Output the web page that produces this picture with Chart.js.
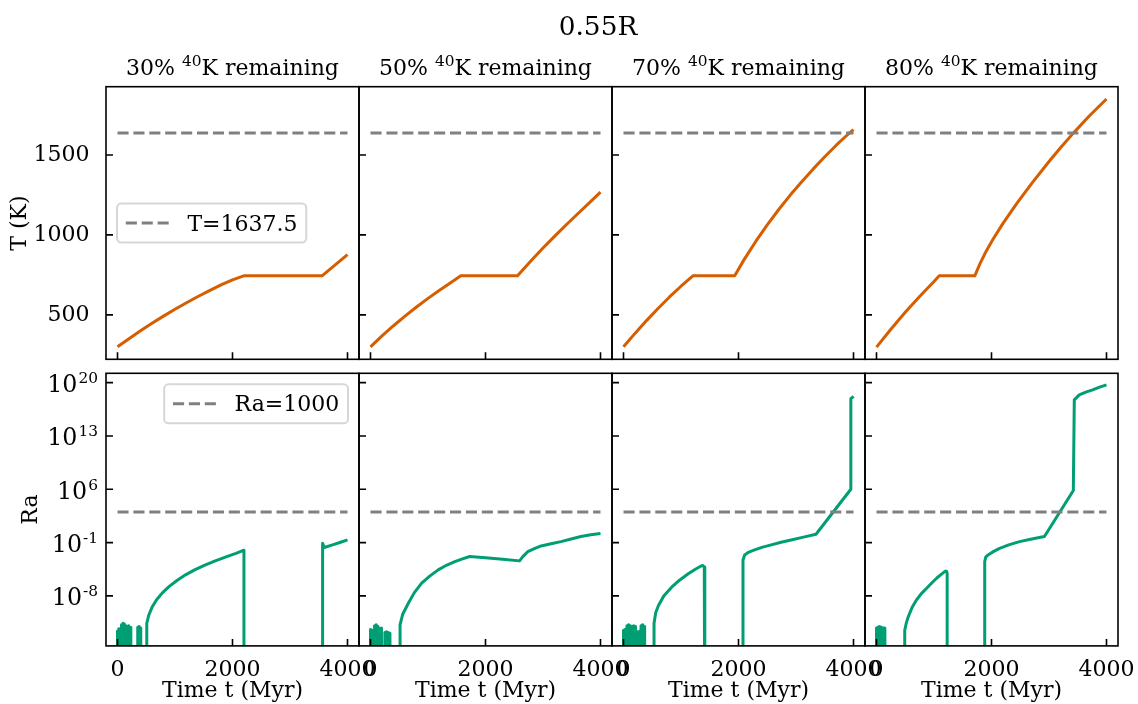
<!DOCTYPE html>
<html>
<head>
<meta charset="utf-8">
<script src="https://cdn.jsdelivr.net/npm/chart.js@4.4.1/dist/chart.umd.min.js"></script>
<style>
  html, body { margin: 0; padding: 0; background: #fff; }
  #wrap { position: relative; width: 1138px; height: 704px; }
  #wrap canvas { position: absolute; left: 0; top: 0; }
</style>
</head>
<body>
<div id="wrap"></div>
<script>
// time axis and tick values
const timeTicks = [0, 2000, 4000];
const tempTicks = [500, 1000, 1500];
const raTicks = [1e-8, 1e-1, 1e6, 1e13, 1e20];
const potassium = ['30%', '50%', '70%', '80%'];
const meltTemp = 1637.5;
const critRa = 1000;

// temperature curves [t (Myr), T (K)]
const temp30 = [[0,300],[200,351],[400,400],[600,447],[800,492],[1000,535],[1200,576],[1400,615],[1600,652],[1800,687],[2000,719],[2194,744],[3557,744],[4000,877]];
const temp50 = [[0,300],[200,368],[400,432],[600,492],[800,549],[1000,603],[1200,654],[1400,702],[1570,744],[2557,744],[2800,842],[3000,918],[3200,991],[3400,1062],[3600,1131],[3800,1199],[4000,1268]];
const temp70 = [[0,300],[200,384],[400,464],[600,540],[800,612],[1000,679],[1207,744],[1934,744],[2100,847],[2300,959],[2500,1063],[2700,1159],[2900,1249],[3100,1333],[3300,1413],[3500,1489],[3700,1561],[3900,1628],[4000,1658]];
const temp80 = [[0,298],[250,410],[500,516],[750,615],[1000,709],[1091,744],[1709,744],[1800,820],[1900,893],[2026,973],[2200,1072],[2431,1192],[2700,1322],[3008,1462],[3200,1545],[3411,1632],[3700,1744],[4000,1850]];

// Rayleigh number curves [t (Myr), log10 Ra]; -30 means the value sits far below the axis
const ra30 = [[0,-30],[0,-12.6],[12,-30],[22,-12.3],[35,-30],[45,-12.5],[58,-30],[70,-11.8],[82,-30],[95,-11.6],[108,-30],[120,-11.7],[132,-30],[145,-11.9],[158,-30],[170,-12.0],[182,-30],[195,-11.9],[208,-30],[220,-12.1],[232,-30],
  [346,-30],[352,-12.1],[365,-30],[378,-12.0],[392,-30],[404,-12.2],[410,-30],
  [509,-30],[509,-11.6],[545,-10.5],[600,-9.5],[680,-8.5],[780,-7.6],[900,-6.75],[1040,-5.95],[1190,-5.2],[1350,-4.55],[1520,-3.95],[1700,-3.4],[1900,-2.85],[2060,-2.42],[2199,-2.0],[2199,-30],
  [3567,-30],[3567,-1.08],[3596,-1.65],[3740,-1.3],[3880,-0.95],[4000,-0.65]];
const ra50 = [[0,-30],[0,-12.4],[12,-30],[25,-12.5],[35,-30],[63,-30],[70,-11.9],[85,-30],[100,-11.8],[115,-30],[130,-12.0],[145,-30],[160,-12.3],[175,-30],[190,-12.2],[200,-30],
  [242,-30],[250,-12.8],[265,-30],[280,-12.7],[295,-30],[310,-12.8],[325,-30],[338,-12.9],[345,-30],
  [514,-30],[514,-11.8],[560,-10.4],[658,-8.96],[760,-7.6],[889,-6.33],[1030,-5.4],[1177,-4.58],[1320,-3.98],[1466,-3.49],[1600,-3.13],[1726,-2.83],[2000,-2.98],[2300,-3.2],[2592,-3.4],
  [2649,-2.84],[2736,-2.19],[2850,-1.8],[2967,-1.44],[3140,-1.15],[3313,-0.87],[3490,-0.52],[3659,-0.21],[3830,0.02],[4000,0.2]];
const ra70 = [[0,-30],[0,-12.5],[15,-30],[30,-12.4],[45,-30],[60,-11.9],[75,-30],[90,-11.8],[105,-30],[120,-11.9],[135,-30],[150,-12.0],[165,-30],[180,-11.9],[195,-30],[210,-12.0],[225,-30],
  [245,-30],[255,-12.7],[270,-30],[285,-12.6],[295,-30],[305,-11.9],[320,-30],[335,-11.8],[350,-30],[362,-12.0],[368,-30],
  [531,-30],[531,-11.6],[560,-10.2],[606,-9.3],[700,-8.0],[837,-6.85],[980,-5.9],[1126,-5.1],[1250,-4.5],[1340,-4.1],[1380,-4.0],[1405,-4.2],[1414,-4.67],[1414,-30],
  [2078,-30],[2078,-3.28],[2107,-2.62],[2180,-2.25],[2280,-1.96],[2420,-1.6],[2569,-1.3],[2740,-0.96],[2915,-0.65],[3130,-0.28],[3348,0.1],[3954,6.0],[3954,17.9],[3975,18.0],[4000,18.2]];
const ra80 = [[0,-30],[0,-12.2],[12,-30],[25,-12.1],[40,-30],[55,-12.0],[70,-30],[85,-12.1],[100,-30],[115,-12.2],[130,-30],[145,-12.2],[160,-30],
  [491,-30],[491,-12.5],[520,-11.5],[554,-10.7],[620,-9.5],[698,-8.5],[780,-7.7],[872,-7.0],[960,-6.3],[1045,-5.68],[1120,-5.2],[1170,-4.9],[1205,-4.72],[1222,-4.8],[1229,-5.1],[1229,-30],
  [1882,-30],[1882,-3.5],[1900,-2.9],[1939,-2.62],[2040,-2.15],[2141,-1.75],[2300,-1.3],[2488,-0.87],[2700,-0.52],[2921,-0.21],[3423,5.83],[3440,17.73],[3527,18.38],[3640,18.75],[3758,19.04],[3880,19.4],[4000,19.7]];

const tempSeries = [temp30, temp50, temp70, temp80];
const raSeries = [ra30, ra50, ra70, ra80];

const W = 1138, H = 704;
const colLeft = [106, 359, 612, 865];
const colWidth = 253;
const rowTop = [86.7, 373.3];
const rowHeight = 272.6;

const FONT = '"DejaVu Serif", "Liberation Serif", serif';
const FS = 22;
const ORANGE = '#D55E00';
const GREEN = '#009E73';
const GREY = '#808080';

function font(size) { return size + 'px ' + FONT; }

// "10" with a raised exponent, right aligned at xRight
function drawPower(ctx, value, xRight, yTick) {
  const exp = String(Math.round(Math.log10(value)));
  ctx.font = font(FS * 0.7);
  const ws = ctx.measureText(exp).width;
  const base = yTick + 9.3;
  ctx.textAlign = 'left';
  ctx.textBaseline = 'alphabetic';
  ctx.fillText(exp, xRight - ws, base - 9);
  ctx.font = font(FS * 1.08);
  const wb = ctx.measureText('10').width;
  ctx.fillText('10', xRight - ws - wb - 1, base);
}

// "xx% 40K remaining" with the isotope number raised
function drawColumnTitle(ctx, pct, cx, base) {
  const a = pct + ' ', s = '40', b = 'K remaining';
  ctx.font = font(FS);
  const wa = ctx.measureText(a).width, wb = ctx.measureText(b).width;
  ctx.font = font(FS * 0.7);
  const ws = ctx.measureText(s).width;
  let x = cx - (wa + ws + wb) / 2;
  ctx.textAlign = 'left';
  ctx.textBaseline = 'alphabetic';
  ctx.font = font(FS);
  ctx.fillText(a, x, base);
  x += wa;
  ctx.font = font(FS * 0.7);
  ctx.fillText(s, x, base - 8.5);
  x += ws;
  ctx.font = font(FS);
  ctx.fillText(b, x, base);
}

function drawLegend(ctx, label, left, top) {
  ctx.font = font(FS);
  const tw = ctx.measureText(label).width;
  const pad = 0.4 * FS, handle = 2 * FS, gap = 0.8 * FS;
  const w = pad + handle + gap + tw + pad, h = 39;
  if (left === null) left = top.right - w;
  const y0 = top.y;
  ctx.beginPath();
  ctx.roundRect(left, y0, w, h, 4.4);
  ctx.fillStyle = 'rgba(255,255,255,0.8)';
  ctx.fill();
  ctx.strokeStyle = 'rgba(204,204,204,0.8)';
  ctx.lineWidth = 2;
  ctx.stroke();
  const cy = y0 + h / 2;
  ctx.beginPath();
  ctx.setLineDash([11.1, 4.8]);
  ctx.strokeStyle = GREY;
  ctx.lineWidth = 3;
  ctx.moveTo(left + pad, cy);
  ctx.lineTo(left + pad + handle, cy);
  ctx.stroke();
  ctx.setLineDash([]);
  ctx.fillStyle = '#000';
  ctx.textAlign = 'left';
  ctx.textBaseline = 'alphabetic';
  ctx.fillText(label, left + pad + handle + gap, cy + 7.5);
}

function drawRotated(ctx, text, x, cy) {
  ctx.save();
  ctx.translate(x, cy);
  ctx.rotate(-Math.PI / 2);
  ctx.font = font(FS);
  ctx.textAlign = 'center';
  ctx.textBaseline = 'alphabetic';
  ctx.fillText(text, 0, 0);
  ctx.restore();
}

const wrap = document.getElementById('wrap');

function makePanel(row, col) {
  const canvas = document.createElement('canvas');
  canvas.width = W;
  canvas.height = H;
  wrap.appendChild(canvas);

  const area = { left: colLeft[col], top: rowTop[row], right: colLeft[col] + colWidth, bottom: rowTop[row] + rowHeight };
  const yWidth = col === 0 ? area.left : 0;
  const xHeight = row === 1 ? H - area.bottom : 0;
  const isTemp = row === 0;

  const series = isTemp
    ? tempSeries[col].map(p => ({ x: p[0], y: p[1] }))
    : raSeries[col].map(p => ({ x: p[0], y: Math.pow(10, p[1]) }));
  const ref = isTemp ? meltTemp : critRa;
  const refLabel = isTemp ? 'T=1637.5' : 'Ra=1000';

  const decor = {
    id: 'panelDecor',
    afterDraw(chart) {
      const ctx = chart.ctx, a = chart.chartArea;
      const xs = chart.scales.x, ys = chart.scales.y;
      ctx.save();
      // inward ticks and frame
      ctx.strokeStyle = '#000';
      ctx.lineWidth = 1.6;
      ctx.beginPath();
      xs.ticks.forEach(t => {
        const px = xs.getPixelForValue(t.value);
        ctx.moveTo(px, a.bottom);
        ctx.lineTo(px, a.bottom - 7);
      });
      ys.ticks.forEach(t => {
        const py = ys.getPixelForValue(t.value);
        ctx.moveTo(a.left, py);
        ctx.lineTo(a.left + 7, py);
      });
      ctx.stroke();
      ctx.strokeRect(a.left, a.top, a.right - a.left, a.bottom - a.top);

      ctx.fillStyle = '#000';
      if (!isTemp && col === 0) {
        ys.ticks.forEach(t => drawPower(ctx, t.value, a.left - 8, ys.getPixelForValue(t.value)));
      }
      if (isTemp) {
        drawColumnTitle(ctx, potassium[col], (a.left + a.right) / 2, a.top - 12);
      }
      if (isTemp && col === 0) {
        ctx.font = font(FS * 1.2);
        ctx.textAlign = 'center';
        ctx.textBaseline = 'alphabetic';
        ctx.fillText('0.55R', 598, 34.5);
      }
      if (col === 0) {
        drawRotated(ctx, isTemp ? 'T (K)' : 'Ra', isTemp ? 25.5 : 36.5, (a.top + a.bottom) / 2);
      }
      if (!isTemp) {
        ctx.font = font(FS);
        ctx.textAlign = 'center';
        ctx.textBaseline = 'alphabetic';
        ctx.fillText('Time t (Myr)', (a.left + a.right) / 2, 697);
      }
      if (col === 0) {
        if (isTemp) {
          drawLegend(ctx, refLabel, a.left + 11, { y: (a.top + a.bottom) / 2 - 19.5 });
        } else {
          drawLegend(ctx, refLabel, null, { y: a.top + 11, right: a.right - 11 });
        }
      }
      ctx.restore();
    }
  };

  new Chart(canvas, {
    type: 'line',
    data: {
      datasets: [
        {
          label: refLabel,
          data: [{ x: 0, y: ref }, { x: 4000, y: ref }],
          borderColor: GREY,
          borderWidth: 3,
          borderDash: [11.1, 4.8],
          pointRadius: 0,
          clip: 0
        },
        {
          label: isTemp ? 'T' : 'Ra',
          data: series,
          borderColor: isTemp ? ORANGE : GREEN,
          borderWidth: 3,
          borderJoinStyle: 'round',
          pointRadius: 0,
          tension: 0,
          clip: 0
        }
      ]
    },
    options: {
      responsive: false,
      animation: false,
      events: [],
      layout: {
        padding: { left: area.left - yWidth, top: area.top, right: W - area.right, bottom: H - area.bottom - xHeight }
      },
      plugins: { legend: { display: false }, tooltip: { enabled: false } },
      scales: {
        x: {
          type: 'linear',
          min: -200,
          max: 4200,
          bounds: 'data',
          grid: { display: false },
          border: { display: false },
          afterBuildTicks: s => { s.ticks = timeTicks.map(v => ({ value: v })); },
          afterFit: s => { s.height = xHeight; s.paddingLeft = 0; s.paddingRight = 0; },
          ticks: {
            display: row === 1,
            autoSkip: false,
            maxRotation: 0,
            minRotation: 0,
            padding: 3,
            color: '#000',
            font: { family: FONT, size: FS },
            callback: v => String(v)
          }
        },
        y: isTemp ? {
          type: 'linear',
          min: 222,
          max: 1927,
          bounds: 'data',
          grid: { display: false },
          border: { display: false },
          afterBuildTicks: s => { s.ticks = tempTicks.map(v => ({ value: v })); },
          afterFit: s => { s.width = yWidth; s.paddingTop = 0; s.paddingBottom = 0; },
          ticks: {
            display: col === 0,
            padding: 8.5,
            color: '#000',
            font: { family: FONT, size: FS },
            callback: v => String(v)
          }
        } : {
          type: 'logarithmic',
          min: Math.pow(10, -14.56),
          max: Math.pow(10, 21.22),
          bounds: 'data',
          grid: { display: false },
          border: { display: false },
          afterBuildTicks: s => { s.ticks = raTicks.map(v => ({ value: v })); },
          afterFit: s => { s.width = yWidth; s.paddingTop = 0; s.paddingBottom = 0; },
          ticks: { display: false }
        }
      }
    },
    plugins: [decor]
  });
}

for (let r = 0; r < 2; r++) {
  for (let c = 0; c < 4; c++) makePanel(r, c);
}
</script>
</body>
</html>
